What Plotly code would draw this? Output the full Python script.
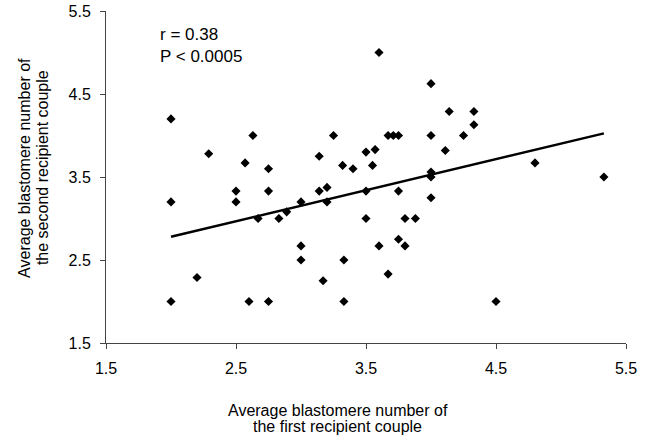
import numpy as np
import plotly.graph_objects as go

# Average blastomere number of the first recipient couple (x) vs second (y)
x_first = [2.0, 2.29, 2.63, 2.57, 2.75, 2.5, 2.75, 3.14, 3.25, 3.32, 3.4, 3.5, 3.57, 3.55,
           3.6, 3.14, 3.2, 3.5, 4.0, 4.14, 4.33, 4.33, 3.67, 3.71, 3.75, 4.0, 4.25, 4.11,
           4.0, 4.0, 4.8, 5.33, 3.75, 4.0, 2.0, 2.5, 2.67, 2.83, 2.89, 3.0, 3.2, 3.5,
           3.6, 3.0, 3.0, 3.33, 2.2, 3.17, 2.0, 2.6, 2.75, 3.33, 3.8, 3.88, 3.75, 3.8,
           3.67, 4.5]
y_second = [4.2, 3.78, 4.0, 3.67, 3.6, 3.33, 3.33, 3.75, 4.0, 3.64, 3.6, 3.8, 3.83, 3.64,
            5.0, 3.33, 3.375, 3.33, 4.625, 4.29, 4.29, 4.13, 4.0, 4.0, 4.0, 4.0, 4.0, 3.82,
            3.56, 3.5, 3.67, 3.5, 3.33, 3.25, 3.2, 3.2, 3.0, 3.0, 3.08, 3.2, 3.2, 3.0,
            2.67, 2.67, 2.5, 2.5, 2.29, 2.25, 2.0, 2.0, 2.0, 2.0, 3.0, 3.0, 2.75, 2.67,
            2.33, 2.0]

# Regression line as drawn in the figure
fit_slope = 0.374
fit_intercept = 2.032

tick_vals = [1.5, 2.5, 3.5, 4.5, 5.5]
tick_text = ["1.5", "2.5", "3.5", "4.5", "5.5"]
stats_lines = ["r = 0.38", "P < 0.0005"]
x_title_lines = ["Average blastomere number of", "the first recipient couple"]
y_title_lines = ["Average blastomere number of", "the second recipient couple"]

xa = np.array(x_first)
line_x = np.array([xa.min(), xa.max()])
line_y = fit_slope * line_x + fit_intercept

FONT = "Liberation Sans, Arial, Helvetica, sans-serif"

fig = go.Figure()
fig.add_trace(go.Scatter(x=x_first, y=y_second, mode="markers",
                         marker=dict(symbol="diamond", size=7, color="black"),
                         showlegend=False, cliponaxis=False))
fig.add_trace(go.Scatter(x=line_x, y=line_y, mode="lines",
                         line=dict(color="black", width=2.5),
                         showlegend=False))

axis_common = dict(range=[1.5, 5.5], tickvals=tick_vals, ticktext=tick_text,
                   showgrid=False, zeroline=False, showline=True, linecolor="#444",
                   linewidth=1, ticks="outside", ticklen=5, tickcolor="#444",
                   automargin=False,
                   tickfont=dict(family=FONT, size=16, color="black"))
fig.update_xaxes(**axis_common, ticklabelstandoff=6)
fig.update_yaxes(**axis_common, ticklabelstandoff=6)

ann = []
for i, t in enumerate(stats_lines):
    ann.append(dict(text=t, xref="paper", yref="paper", x=0.1, y=[0.928, 0.864][i],
                    xanchor="left", yanchor="middle", showarrow=False,
                    font=dict(family=FONT, size=17, color="black")))
for i, t in enumerate(x_title_lines):
    ann.append(dict(text=t, xref="paper", yref="paper", x=0.446, y=[-0.202, -0.253][i],
                    xanchor="center", yanchor="middle", showarrow=False,
                    font=dict(family=FONT, size=16, color="black")))
for i, t in enumerate(y_title_lines):
    ann.append(dict(text=t, xref="paper", yref="paper", x=[-0.158, -0.123][i], y=0.527,
                    xanchor="center", yanchor="middle", showarrow=False, textangle=-90,
                    font=dict(family=FONT, size=16, color="black")))

fig.update_layout(width=657, height=437, margin=dict(l=106, r=31, t=11, b=94),
                  paper_bgcolor="white", plot_bgcolor="white", annotations=ann,
                  hovermode=False)

# remove the default page margin so the figure fills the window exactly
fig.write_html("out.html", config={"displayModeBar": False, "staticPlot": True},
               post_script="document.body.style.margin='0';document.body.style.overflow='hidden';")
